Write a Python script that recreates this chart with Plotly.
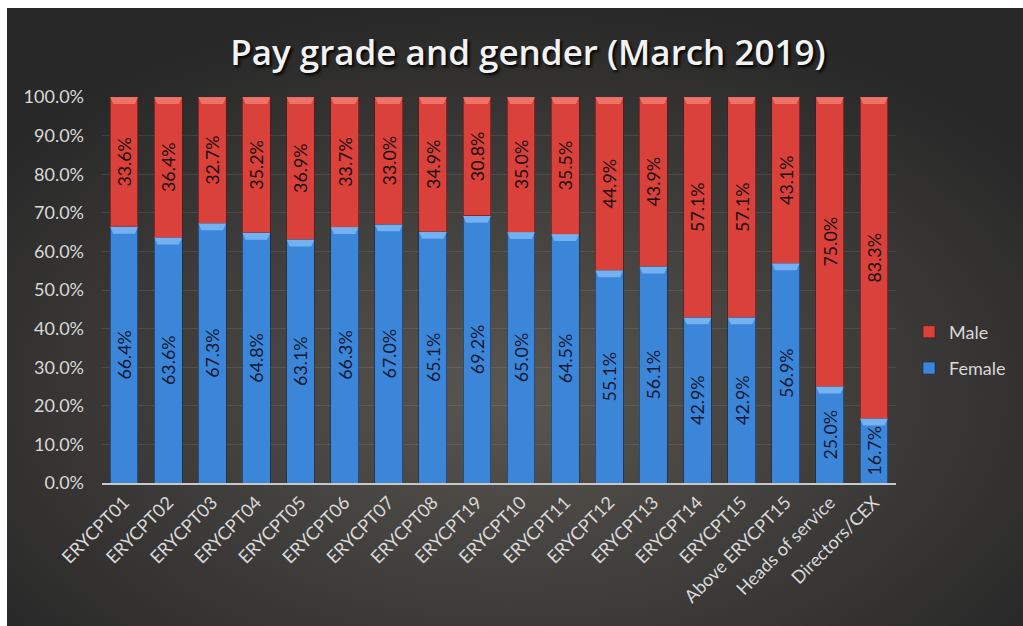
import base64
import plotly.graph_objects as go

# Pay grade categories in display order
grades = [
    "ERYCPT01", "ERYCPT02", "ERYCPT03", "ERYCPT04", "ERYCPT05", "ERYCPT06",
    "ERYCPT07", "ERYCPT08", "ERYCPT19", "ERYCPT10", "ERYCPT11", "ERYCPT12",
    "ERYCPT13", "ERYCPT14", "ERYCPT15", "Above ERYCPT15", "Heads of service",
    "Directors/CEX",
]

# Share of staff in each grade (percent)
female_pct = [66.4, 63.6, 67.3, 64.8, 63.1, 66.3, 67.0, 65.1, 69.2, 65.0,
              64.5, 55.1, 56.1, 42.9, 42.9, 56.9, 25.0, 16.7]
male_pct = [33.6, 36.4, 32.7, 35.2, 36.9, 33.7, 33.0, 34.9, 30.8, 35.0,
            35.5, 44.9, 43.9, 57.1, 57.1, 43.1, 75.0, 83.3]

title_text = "Pay grade and gender (March 2019)"

FONT = "Lato"
BLUE = "#3c86da"
RED = "#d9413a"
BLUE_CAP = "#7cb8f4"
RED_CAP = "#f37a70"
EDGE = "#282828"
BAR_W = 0.63

xpos = list(range(len(grades)))
female = [v / 100 for v in female_pct]
male = [v / 100 for v in male_pct]

# Dark radial-gradient backdrop for the chart panel
bg_svg = """<svg xmlns='http://www.w3.org/2000/svg' width='1040' height='640' viewBox='0 0 1040 640' preserveAspectRatio='none'>
<defs><radialGradient id='g' cx='0.49' cy='0.61' r='0.62' gradientUnits='objectBoundingBox'>
<stop offset='0' stop-color='#5a5650'/>
<stop offset='0.45' stop-color='#43413e'/>
<stop offset='1' stop-color='#282828'/>
</radialGradient></defs>
<rect width='1040' height='640' fill='url(#g)'/>
</svg>"""
bg_uri = "data:image/svg+xml;base64," + base64.b64encode(bg_svg.encode()).decode()

fig = go.Figure()

fig.add_trace(go.Bar(
    name="Female",
    legendgroup="f",
    legendrank=2,
    x=xpos,
    y=female,
    text=[f"{v:.1f}%" for v in female_pct],
    textposition="inside",
    insidetextanchor="middle",
    textangle=-90,
    textfont=dict(family=FONT, size=18, color="#0f1830"),
    marker=dict(color=BLUE, line=dict(color="rgba(20,40,80,0.6)", width=1)),
    width=BAR_W,
))
fig.add_trace(go.Bar(
    name="Male",
    legendgroup="m",
    legendrank=1,
    x=xpos,
    y=male,
    text=[f"{v:.1f}%" for v in male_pct],
    textposition="inside",
    insidetextanchor="middle",
    textangle=-90,
    textfont=dict(family=FONT, size=18, color="#1a0c0c"),
    marker=dict(color=RED, line=dict(color="rgba(90,20,20,0.6)", width=1)),
    width=BAR_W,
))

# Panel geometry in pixels, converted to paper units of the plot area
W, H = 1023, 626
ml, mr, mt, mb = 102, 127, 97, 143
pw, ph = W - ml - mr, H - mt - mb
px0, py0 = 7, 8
img_x = (px0 - ml) / pw
img_y = (H - mb - py0) / ph
img_w = (W + 17 - px0) / pw
img_h = (H + 14 - py0) / ph

# White page strips above and left of the dark panel
shapes = [
    dict(type="rect", xref="paper", yref="paper", layer="below",
         x0=-ml / pw, x1=(W - ml) / pw, y0=img_y, y1=(H - mb) / ph,
         fillcolor="white", line=dict(width=0)),
    dict(type="rect", xref="paper", yref="paper", layer="below",
         x0=-ml / pw, x1=img_x, y0=-mb / ph, y1=(H - mb) / ph,
         fillcolor="white", line=dict(width=0)),
]

# Bevelled cap at the top of every stacked segment
cap_h = 0.018
inset = 0.07
for i, (f, m) in enumerate(zip(female, male)):
    for top, col in ((f, BLUE_CAP), (f + m, RED_CAP)):
        x0, x1 = i - BAR_W / 2, i + BAR_W / 2
        path = (f"M {x0},{top} L {x1},{top} L {x1 - inset},{top - cap_h} "
                f"L {x0 + inset},{top - cap_h} Z")
        shapes.append(dict(type="path", path=path, xref="x", yref="y",
                           fillcolor=col, line=dict(width=0), layer="above",
                           opacity=0.85))

fig.update_layout(
    width=W,
    height=H,
    barmode="stack",
    margin=dict(l=ml, r=mr, t=mt, b=mb, pad=0),
    paper_bgcolor=EDGE,
    plot_bgcolor="rgba(0,0,0,0)",
    font=dict(family=FONT, color="#d9d9d9"),
    images=[dict(
        source=bg_uri, xref="paper", yref="paper",
        x=img_x, y=img_y, sizex=img_w, sizey=img_h,
        xanchor="left", yanchor="top", sizing="stretch", layer="below",
    )],
    shapes=shapes,
    title=dict(
        text=title_text,
        x=0.516, xanchor="center", y=1 - 53 / H, yanchor="middle",
        font=dict(family="Open Sans", size=35, color="#f2f2f2", weight=600,
                  shadow="2px 2px 3px #000"),
    ),
    legend=dict(
        xref="container", yref="container",
        x=909 / W, xanchor="left", y=1 - 350 / H, yanchor="middle",
        traceorder="grouped",
        tracegroupgap=10,
        font=dict(family=FONT, size=18, color="#d9d9d9"),
        bgcolor="rgba(0,0,0,0)",
        itemwidth=30,
    ),
    showlegend=True,
    xaxis=dict(
        tickmode="array",
        tickvals=xpos,
        ticktext=grades,
        range=[-0.5, len(grades) - 0.5],
        tickangle=-45,
        tickfont=dict(family=FONT, size=18, color="#d9d9d9"),
        showgrid=False,
        zeroline=False,
        showline=True, linecolor="#c8c8c8", linewidth=2,
        ticks="",
        automargin=False,
    ),
    yaxis=dict(
        range=[0, 1.0],
        dtick=0.1,
        tickformat=".1%",
        tickfont=dict(family=FONT, size=18, color="#d9d9d9"),
        showgrid=True, gridcolor="rgba(255,255,255,0.09)", gridwidth=1,
        zeroline=False,
        ticks="",
        ticklabelstandoff=17,
        automargin=False,
    ),
)

fig.write_html("out.html")
